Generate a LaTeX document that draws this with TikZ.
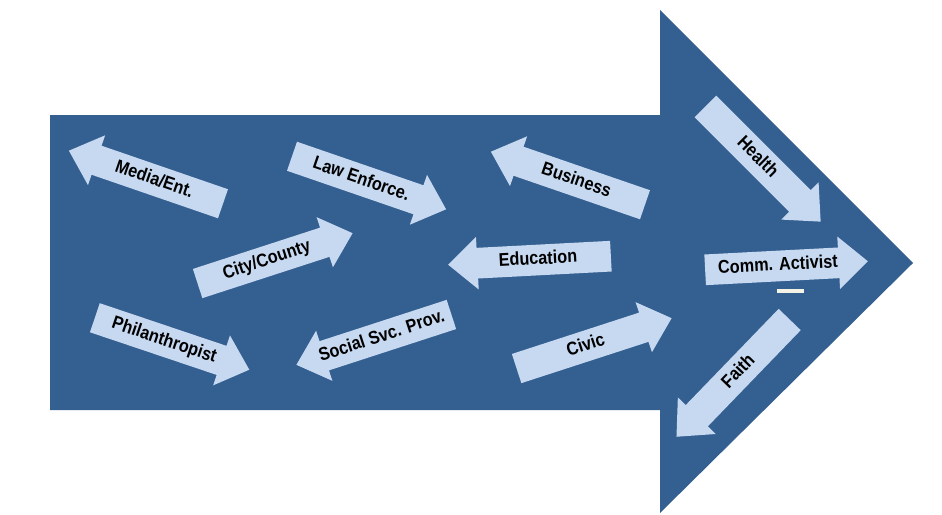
\documentclass[tikz,border=0pt]{standalone}
\usepackage{fontspec}
\newfontfamily\sectorfont{Liberation Sans}[FakeStretch=0.88]
\usetikzlibrary{shapes.arrows}

\definecolor{bigblue}{RGB}{52,95,145}
\definecolor{paleblue}{RGB}{198,217,240}
\definecolor{cream}{RGB}{245,243,230}

\begin{document}
\begin{tikzpicture}[x=0.02cm, y=-0.02cm,
  sector/.style={shape=single arrow, fill=paleblue, inner xsep=0pt, inner ysep=0.14cm,
    text height=0.25cm, text depth=0.07cm,
    minimum height=3.26cm, minimum width=1.04cm,
    single arrow head extend=0.22cm, single arrow tip angle=84,
    font=\sectorfont\bfseries\fontsize{10.5}{12}\selectfont},
  back/.style={shape border rotate=180}]
\useasboundingbox (0,0) rectangle (942,514);
% the big arrow
\fill[bigblue] (50,115) -- (660,115) -- (660,10) -- (913,263) -- (660,513) -- (660,410) -- (50,410) -- cycle;
% sectors
\node[sector, back, rotate=-19] (media) at (154,180) {Media/Ent.};
\node[sector, rotate=-19] (law) at (361,180) {Law Enforce.};
\node[sector, rotate=18] (city) at (267,261) {City/County};
\node[sector, rotate=-18.6] (phil) at (164,341) {Philanthropist};
\node[sector, back, rotate=18] (social) at (382,337) {Social Svc. Prov.};
\node[sector, back, rotate=-19] (business) at (576,181) {Business};
\node[sector, back, rotate=3] (education) at (538,260) {Education};
\node[sector, rotate=18] (civic) at (586,346) {Civic};
\node[sector, rotate=-45] (health) at (757,158) {Health};
\node[sector, rotate=3] (activist) at (778,266) {Comm. Activist};
\node[sector, back, rotate=46] (faith) at (739,372) {Faith};
\fill[cream] (777,289) rectangle (804,293);
\end{tikzpicture}
\end{document}
